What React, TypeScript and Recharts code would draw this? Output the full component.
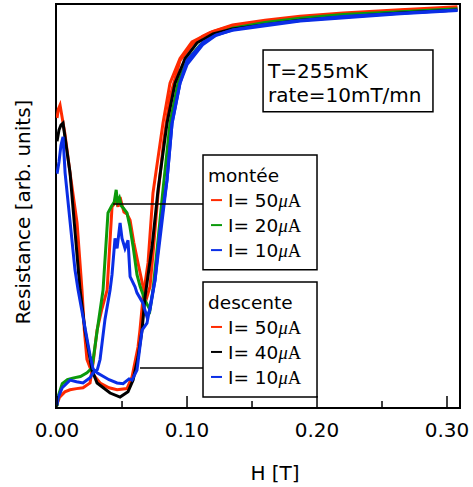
import { LineChart, Line, XAxis, YAxis, ReferenceArea, ReferenceLine } from 'recharts';

const FONT = '"DejaVu Sans", Verdana, sans-serif';
const SERIF = '"Liberation Serif", "DejaVu Serif", serif';

const H_TICKS = [0, 0.05, 0.1, 0.15, 0.2, 0.25, 0.3];
const MAJOR_TICKS = [0, 0.1, 0.2, 0.3];

// montée (field going up)
const upH50 = [0, 0.002, 0.006, 0.01, 0.015, 0.02, 0.0254, 0.0277, 0.0308, 0.0345, 0.0385, 0.0405, 0.0423, 0.044, 0.0455, 0.047, 0.0485, 0.05, 0.0515, 0.0538, 0.0562, 0.059, 0.0623, 0.0662, 0.0692, 0.0715, 0.0738, 0.0777, 0.082, 0.0869, 0.0946, 0.104, 0.112, 0.12, 0.135, 0.16, 0.187, 0.22, 0.264, 0.29, 0.308];
const upR50 = [1.0, 2.7, 4.0, 4.5, 4.8, 5.0, 6.2, 11.1, 19.3, 24.5, 29.2, 40.0, 49.8, 50.5, 51.5, 49.8, 52.2, 50.2, 48.5, 48.0, 46.5, 41.0, 35.9, 30.0, 27.5, 30.0, 38.0, 53.0, 66.0, 77.0, 86.0, 90.0, 92.0, 93.2, 94.8, 96.0, 97.0, 97.8, 98.6, 99.0, 99.3];

const upH20 = [0, 0.001, 0.004, 0.008, 0.012, 0.018, 0.023, 0.0269, 0.0308, 0.0354, 0.0392, 0.042, 0.044, 0.0455, 0.0465, 0.048, 0.0495, 0.051, 0.0538, 0.056, 0.0585, 0.0615, 0.064, 0.0677, 0.0715, 0.0738, 0.0777, 0.0815, 0.0869, 0.0931, 0.1, 0.11, 0.12, 0.135, 0.16, 0.187, 0.22, 0.264, 0.308];
const upR20 = [0.5, 3.0, 6.0, 7.0, 7.4, 7.8, 8.7, 9.9, 19.0, 29.2, 48.3, 50.0, 51.0, 54.0, 51.0, 52.0, 50.0, 49.5, 48.3, 45.0, 40.0, 33.0, 30.0, 26.7, 24.3, 29.2, 41.6, 54.0, 70.5, 80.4, 86.0, 89.8, 92.2, 94.0, 95.4, 96.5, 97.4, 98.1, 98.8];

const upH10 = [0, 0.0008, 0.004, 0.01, 0.015, 0.02, 0.0254, 0.0277, 0.031, 0.0331, 0.0369, 0.0408, 0.0423, 0.0446, 0.0462, 0.0485, 0.05, 0.0523, 0.0546, 0.0562, 0.06, 0.0615, 0.066, 0.0692, 0.0715, 0.0754, 0.0792, 0.0846, 0.0885, 0.0946, 0.1, 0.1123, 0.122, 0.135, 0.16, 0.187, 0.22, 0.264, 0.308];
const upR10 = [0.7, 2.5, 5.0, 6.9, 6.5, 6.2, 7.5, 8.7, 9.5, 12.0, 22.0, 29.2, 33.0, 42.0, 39.5, 45.8, 42.0, 39.5, 41.5, 32.5, 30.0, 28.5, 26.0, 22.5, 24.3, 31.7, 44.1, 56.4, 70.5, 80.4, 85.0, 90.0, 92.2, 93.6, 94.9, 95.9, 96.9, 97.7, 98.5];

// descente (field going down)
const downH50 = [0, 0.001, 0.0023, 0.006, 0.01, 0.0154, 0.0192, 0.021, 0.023, 0.0269, 0.0331, 0.04, 0.0462, 0.0538, 0.0577, 0.0623, 0.0638, 0.0662, 0.07, 0.0738, 0.0815, 0.0869, 0.0946, 0.1038, 0.118, 0.135, 0.187, 0.264, 0.308];
const downR50 = [71.8, 74.0, 75.0, 68.0, 58.2, 45.8, 29.2, 19.3, 12.0, 8.7, 6.2, 5.0, 4.5, 4.8, 7.7, 15.1, 19.3, 27.5, 35.9, 53.2, 70.5, 80.4, 86.5, 90.6, 93.0, 94.6, 96.8, 98.4, 99.0];

const downH40 = [0, 0.0015, 0.003, 0.0046, 0.01, 0.0177, 0.0215, 0.0269, 0.0308, 0.0408, 0.0485, 0.0546, 0.0585, 0.0623, 0.0654, 0.0677, 0.0731, 0.0777, 0.0846, 0.0908, 0.0985, 0.1077, 0.12, 0.135, 0.187, 0.264, 0.308];
const downR40 = [66.0, 68.8, 70.0, 70.5, 58.2, 29.2, 19.3, 9.4, 6.2, 3.7, 2.7, 4.0, 6.9, 12.6, 19.3, 27.5, 39.9, 54.0, 70.5, 80.4, 86.5, 90.4, 92.6, 93.8, 96.0, 97.8, 98.5];

const downH10 = [0, 0.0015, 0.003, 0.0046, 0.0062, 0.0138, 0.0162, 0.0254, 0.0277, 0.0308, 0.04, 0.0462, 0.0508, 0.0554, 0.0577, 0.0615, 0.0654, 0.0692, 0.0754, 0.0846, 0.0885, 0.0946, 0.1, 0.1123, 0.122, 0.135, 0.187, 0.264, 0.308];
const downR10 = [58.0, 60.9, 65.0, 67.1, 58.2, 34.2, 29.2, 13.0, 9.7, 8.7, 7.0, 6.2, 6.0, 7.2, 6.9, 9.4, 19.3, 21.0, 31.7, 56.4, 70.5, 80.4, 86.0, 90.5, 92.3, 93.5, 95.8, 97.6, 98.4];

const zip = (hs: number[], rs: number[]) => hs.map((h, i) => ({ h, r: rs[i] }));

const RED = '#ff2a00';
const GREEN = '#0b9a0b';
const BLUE = '#0a2ee6';
const BLACK = '#000000';

const upEntries = [
  { label: '50', color: RED },
  { label: '20', color: GREEN },
  { label: '10', color: BLUE },
];
const downEntries = [
  { label: '50', color: RED },
  { label: '40', color: BLACK },
  { label: '10', color: BLUE },
];

const HTick = (props: any) => {
  const { x, y, payload } = props;
  const major = MAJOR_TICKS.some((t) => Math.abs(t - payload.value) < 1e-9);
  return (
    <g>
      <line x1={x} x2={x} y1={y} y2={y - (major ? 12 : 7)} stroke="#000" strokeWidth={1.5} />
      {major && (
        <text x={x} y={y + 29} textAnchor="middle" fontFamily={FONT} fontSize={20} fill="#000">
          {payload.value.toFixed(2)}
        </text>
      )}
    </g>
  );
};

const LegendLabel = (props: any) => {
  const { viewBox, title, entries } = props;
  const x = viewBox.x;
  const y = viewBox.y;
  return (
    <g>
      <text x={x + 5} y={y + 27} fontFamily={FONT} fontSize={18.5} fill="#000">{title}</text>
      {entries.map((e: any, i: number) => {
        const cy = y + 45 + i * 25;
        return (
          <g key={i}>
            <line x1={x + 8} x2={x + 19} y1={cy} y2={cy} stroke={e.color} strokeWidth={2} />
            <text x={x + 25} y={cy + 7} fontFamily={FONT} fontSize={18.5} fill="#000">
              I= {e.label}
              <tspan fontFamily={SERIF} fontStyle="italic">μ</tspan>
              <tspan fontFamily={SERIF}>A</tspan>
            </text>
          </g>
        );
      })}
    </g>
  );
};

const InfoLabel = (props: any) => {
  const { viewBox } = props;
  return (
    <g>
      <text x={viewBox.x + 5} y={viewBox.y + 28} fontFamily={FONT} fontSize={20} fill="#000">T=255mK</text>
      <text x={viewBox.x + 5} y={viewBox.y + 52} fontFamily={FONT} fontSize={20} fill="#000">rate=10mT/mn</text>
    </g>
  );
};

const XTitle = (props: any) => {
  const { viewBox } = props;
  return (
    <text x={275} y={viewBox.y + 72} textAnchor="middle" fontFamily={FONT} fontSize={20} fill="#000">H [T]</text>
  );
};

const YTitle = () => (
  <text x={30} y={212} transform="rotate(-90 30 212)" textAnchor="middle" fontFamily={FONT} fontSize={20} fill="#000">
    Resistance [arb. units]
  </text>
);

export default function App() {
  const lineProps = { type: 'linear' as const, dataKey: 'r', dot: false, isAnimationActive: false, strokeWidth: 3 };
  return (
    <div style={{ position: 'absolute', left: 0, top: 0, background: '#fff' }}>
      <LineChart width={473} height={487} margin={{ top: 4, right: 13, left: 0, bottom: 0 }}>
        <XAxis
          type="number"
          dataKey="h"
          domain={[-0.0008, 0.31]}
          ticks={H_TICKS}
          allowDataOverflow
          height={79}
          tickSize={0}
          tickMargin={0}
          tickLine={false}
          axisLine={false}
          tick={<HTick />}
          label={<XTitle />}
        />
        <YAxis type="number" domain={[0, 100]} width={56} tick={false} tickLine={false} axisLine={false} allowDataOverflow label={<YTitle />} />
        <Line {...lineProps} data={zip(upH50, upR50)} stroke={RED} />
        <Line {...lineProps} data={zip(downH50, downR50)} stroke={RED} />
        <Line {...lineProps} data={zip(upH20, upR20)} stroke={GREEN} />
        <Line {...lineProps} data={zip(downH40, downR40)} stroke={BLACK} />
        <Line {...lineProps} data={zip(upH10, upR10)} stroke={BLUE} />
        <Line {...lineProps} data={zip(downH10, downR10)} stroke={BLUE} />
        <ReferenceLine segment={[{ x: 0.0431, y: 50.5 }, { x: 0.1123, y: 50.5 }]} stroke="#000" strokeWidth={1.3} />
        <ReferenceLine segment={[{ x: 0.0638, y: 9.9 }, { x: 0.1123, y: 9.9 }]} stroke="#000" strokeWidth={1.3} />
        <ReferenceArea x1={0.1585} x2={0.2892} y1={73.3} y2={88.6} fill="#fff" fillOpacity={1} stroke="#000" strokeWidth={1.5} label={<InfoLabel />} />
        <ReferenceArea x1={0.1123} x2={0.2} y1={34.2} y2={62.6} fill="#fff" fillOpacity={1} stroke="#000" strokeWidth={1.5} label={<LegendLabel title="montée" entries={upEntries} />} />
        <ReferenceArea x1={0.1123} x2={0.2} y1={2.7} y2={31.2} fill="#fff" fillOpacity={1} stroke="#000" strokeWidth={1.5} label={<LegendLabel title="descente" entries={downEntries} />} />
        <ReferenceArea x1={-0.0008} x2={0.31} y1={0} y2={100} fill="none" stroke="#000" strokeWidth={2} />
      </LineChart>
    </div>
  );
}
